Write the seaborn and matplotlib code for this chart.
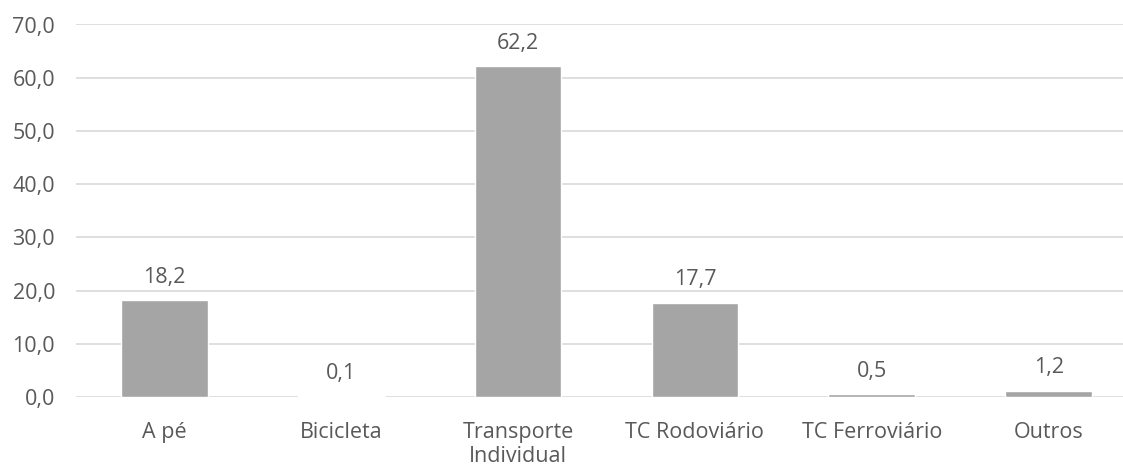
import matplotlib
matplotlib.use("Agg")
import matplotlib.pyplot as plt
import seaborn as sns
import pandas as pd

categorias = ["A pé", "Bicicleta", "Transporte\nIndividual", "TC Rodoviário", "TC Ferroviário", "Outros"]
valores = [18.2, 0.1, 62.2, 17.7, 0.5, 1.2]

df = pd.DataFrame({"categoria": categorias, "valor": valores})

sns.set_style("white")
plt.rcParams["font.family"] = ["Open Sans", "DejaVu Sans"]

cor_texto = "#595959"

fig = plt.figure(figsize=(11.23, 4.65), dpi=100)
ax = fig.add_axes([76 / 1123, 68 / 465, 1061 / 1123, 372.5 / 465])

sns.barplot(data=df, x="categoria", y="valor", color="#A5A5A5", width=0.49,
            saturation=1, ax=ax, zorder=3)

ax.set_ylim(0, 70)
ax.set_yticks(range(0, 71, 10))
ax.set_yticklabels([f"{v:.1f}".replace(".", ",") for v in range(0, 71, 10)])
ax.yaxis.grid(True, color="#D9D9D9", linewidth=1.2, zorder=0)
ax.set_xlabel("")
ax.set_ylabel("")
for s in ax.spines.values():
    s.set_visible(False)
ax.tick_params(axis="both", length=0, labelsize=15.5, colors=cor_texto)
ax.tick_params(axis="y", pad=15)
ax.tick_params(axis="x", pad=18)

for i, v in enumerate(valores):
    ax.annotate(f"{v:.1f}".replace(".", ","), (i, v), xytext=(0, 9),
                textcoords="offset points", ha="center", va="bottom",
                fontsize=15.5, color=cor_texto)

fig.savefig("out.png", dpi=100)
